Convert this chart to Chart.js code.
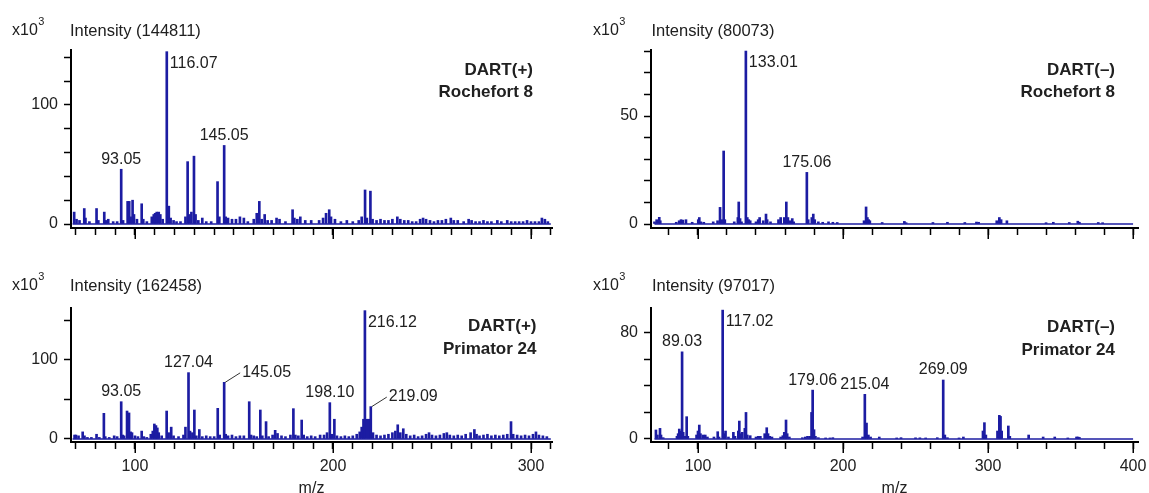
<!DOCTYPE html>
<html><head><meta charset="utf-8">
<script src="https://cdn.jsdelivr.net/npm/chart.js@4.4.1/dist/chart.umd.min.js"></script>
<style>
html,body{margin:0;padding:0;background:#fff;width:1149px;height:493px;overflow:hidden;position:relative;}
canvas{position:absolute;}
</style></head><body>
<canvas id="c1" width="575" height="246" style="left:0;top:0"></canvas>
<canvas id="c2" width="574" height="246" style="left:575px;top:0"></canvas>
<canvas id="c3" width="575" height="247" style="left:0;top:246px"></canvas>
<canvas id="c4" width="574" height="247" style="left:575px;top:246px"></canvas>
<script>
// ---------- DATA ----------
// Top-left: DART(+) Rochefort 8  (intensity x10^3)
const tlMz  = [69.3,70.5,72,74.4,75,77,80.6,81.5,84.5,85.2,86.5,89,91,93.05,94,96.3,97.1,97.8,98.8,99.5,101,103.4,104.2,106,108.5,109.5,110.2,111,112,112.8,114,116.07,117.1,118,119.5,121,123,125.5,126.6,127.5,128.5,129.8,130.6,132,134,136,138.5,141.7,142.6,145.05,145.8,147,149,151,153,155,157,160,161.5,162.8,164,165.5,167,169,171.5,173,176,179.6,180.5,182,183.5,186,189,193,195,196.5,198.1,199,201,204,207,210,213,214.5,216.2,217.1,218.9,220,222,224,226,228,230,232.5,234,236,238,240,242,244,245.5,247,249,251,253,255,257,259.5,261,263,266,268.5,270,272,274,276,278,280,283,285,288,290,292,294,296,298,300,302,304,305.5,307,308.5];
const tlInt = [10,4,3,13,5,2,13,3,10,3,4,2,2,46,3,19,19,6,20,8,4,17,4,2,6,8,9,10,10,8,4,144.8,15,5,3,2,2,6,52.4,8,10,57,8,3,5,2,2,35.6,6,66,6,5,4,4,6,5,2,4,9,19,4,8,3,3,5,4,2,12,5,4,6,3,3,3,5,9,12,6,4,2,3,2,3,6,28.6,5,27.6,4,3,4,3,3,4,6,4,3,3,2,2,4,5,4,3,2,3,3,4,5,3,3,2,4,3,2,2,3,2,2,3,2,3,2,2,2,2,3,2,2,2,5,4,2];
// Top-right: DART(-) Rochefort 8
const trMz  = [70,71.5,73.3,74,85,87,88.3,89.5,91.7,96,100.2,100.9,102,104,110.5,113.5,115.2,116.3,117.7,118.5,125,127.5,128.1,129,130,133.01,134,135,136,140,141.5,142.5,145,146.9,147.7,150,155.5,157,159.5,160.9,162,163.5,165,166,175.06,176,178.5,179.5,180.5,183,186,190,193,196,214.5,215.9,216.8,217.7,218.5,227,242.3,243.5,262,272,284,292,293.5,306,307.8,309,313,340,345,356,361.9,363,376,379];
const trInt = [1,2,3.1,1.5,0.8,1.5,2,1.8,2,0.8,2,3,1,0.8,1,1.5,7.7,2,33.8,2,1,3,10.2,2.5,1,80.07,3,2,1.5,1,2,3,1.5,4.6,2,1,2,3,3,10.2,3,1.5,2.5,1,23.9,2,3,4.6,2,1,0.8,1,0.8,0.7,1.5,7.9,3,2,1.5,0.7,1.2,0.6,0.7,0.8,0.7,0.9,0.8,1.5,3,2,1.5,0.6,0.8,0.7,1.3,0.8,0.7,0.6];
// Bottom-left: DART(+) Primator 24
const blMz  = [69.5,70.2,71.5,73.6,74.5,76,78,80.6,82,84.3,85,87,89.5,91,93.05,93.8,94.5,96,97,97.8,98.5,100,101.5,103.4,104.5,106,108,109,109.8,110.6,111.3,112,113.5,116,117,118.3,119.5,122,124.5,125.5,127.04,127.8,129,130,131,132.5,134,136,138,140,141.8,142.8,145.05,145.8,147,149,151,153,155,157.7,158.6,160,161.5,163.3,164.3,166.2,167.5,169.5,170.8,172,174,176,178.5,180,181,182.5,184.2,185.2,187,189,191,193.5,195.5,197,198.4,199.5,200.7,202,204,206,208,210,212,213.5,214.5,215.4,216.12,217.2,218.1,219.09,220.2,222,224,226,228,230,231.5,232.7,234,235.5,237,239,241,243,245,247,248.5,250,252,254,256,257.5,259,261,263,265,267,269.5,271.4,272.5,274,276,278,280,282,284,286,288,289.9,291,293,295,297,299,301,302.5,304,306,308];
const blInt = [5,5,4,9,4,2,2,6,2,32.5,3,2,4,3,47.2,5,4,35.4,33,9,8,4,3,10,3,2,6,10,19,17,14,8,4,35.4,8,15,4,3,5,15,84,10,8,36.7,4,12,3,4,3,3,38.8,5,71.7,6,4,5,3,4,4,47.2,5,4,3,36.7,4,22,3,5,11,7,4,3,5,38.4,5,4,24,5,3,4,3,5,5,8,46,6,25,4,3,4,3,4,6,9,15,25,162.46,25,25,41,8,5,4,5,6,8,10,18,8,13,6,4,5,3,4,6,8,5,4,5,7,8,5,4,5,4,6,8,12,6,4,5,6,4,5,4,5,6,22,6,5,4,5,4,6,9,5,4,3];
// Bottom-right: DART(-) Primator 24
const brMz  = [71,72,73.8,74.5,76,85.5,86.3,87.1,88,89.03,89.8,91,92.2,93,99,100,100.9,101.7,103.5,105,106.5,111,113.6,114.5,117.02,118,119,121,124.4,125.5,127.8,128.5,129.3,130.5,132.3,133.1,134,136,140,141.5,143,146,147.4,148.3,149.5,151,157,158.5,159.5,160.7,161.5,163,172,174,175.5,177,178.3,179.06,180,181,183,188,191,193,213.5,215.04,216.2,217.5,219,225,237,240,250,253,257,265,269.09,270.2,272,280,283,296.5,297.5,298.5,306.5,307.8,308.6,309.4,314,315,328,338,346,355,361,362,363];
const brInt = [6.8,3,8,3,1,2,4,7.5,6,65.6,5,2,16.8,2,3,6,10.5,4,3,3,1.5,1.5,5.5,1.5,97.0,4,6,1.5,5,2,6,13.5,4,5,8,20,3,2.5,1.5,2,2,4,8.5,4,2,1.5,1.5,2.5,5,14.3,4,1.5,1,1.5,2,2,20,36.8,7,2,1,0.8,0.8,1,1.5,33.6,12,3,1.5,1.5,0.8,1,0.9,0.9,0.8,1,44.4,3,1,0.8,1.5,6,12.3,3,6,17.8,17,6,9.8,2,3,1.5,1.5,0.8,1.5,1.5,1.2];

// Recorded m/z range of each spectrum trace (baseline extent)
const tlRange = [68.5, 310];
const trRange = [70, 400];
const blRange = [68.5, 310];
const brRange = [70, 400];

// Axis ticks
const leftXTicks  = [70,80,90,100,110,120,130,140,150,160,170,180,190,200,210,220,230,240,250,260,270,280,290,300,310];
const leftXMajor  = [100,200,300];
const rightXTicks = [80,100,120,140,160,180,200,220,240,260,280,300,320,340,360,380,400];
const rightXMajor = [100,200,300,400];
const tlYTicks = [0,20,40,60,80,100,120,140]; const tlYLabels = [0,100];
const trYTicks = [0,10,20,30,40,50,60,70,80]; const trYLabels = [0,50];
const blYTicks = [0,50,100,150];              const blYLabels = [0,100];
const brYTicks = [0,20,40,60,80];             const brYLabels = [0,80];

// Texts
const tlIntensity = 'Intensity (144811)', trIntensity = 'Intensity (80073)';
const blIntensity = 'Intensity (162458)', brIntensity = 'Intensity (97017)';
const tlMode = 'DART(+)', trMode = 'DART(–)', blMode = 'DART(+)', brMode = 'DART(–)';
const tlSample = 'Rochefort 8', trSample = 'Rochefort 8', blSample = 'Primator 24', brSample = 'Primator 24';
const tlPeakLabels = ['93.05','116.07','145.05'];
const trPeakLabels = ['133.01','175.06'];
const blPeakLabels = ['93.05','127.04','145.05','198.10','216.12','219.09'];
const brPeakLabels = ['89.03','117.02','179.06','215.04','269.09'];

// ---------- STYLE / LAYOUT ----------
const BLUE = '#1c1ca2';
const TXT = '#202020';
const FONT = "'Liberation Sans', Arial, Helvetica, sans-serif";

const panels = [
  {id:'c1', mz:tlMz, inten:tlInt, range:tlRange, xMin:67.7, xMax:310.6, yMin:-3.36, yMax:146.2, xTicks:leftXTicks, xMajor:leftXMajor, showX:false,
   yTicks:tlYTicks, yLabels:tlYLabels, padTop:50, padRight:23, yAxisW:71, xAxisH:18,
   intensity:tlIntensity, mode:tlMode, sample:tlSample, peaks:tlPeakLabels, pos:['above','right','above'],
   x10:[12,31], intX:70, modeX:533, modeY:[70,92]},
  {id:'c2', mz:trMz, inten:trInt, range:trRange, xMin:67.6, xMax:403.4, yMin:-1.85, yMax:80.56, xTicks:rightXTicks, xMajor:rightXMajor, showX:false,
   yTicks:trYTicks, yLabels:trYLabels, padTop:50, padRight:11, yAxisW:76, xAxisH:18,
   intensity:trIntensity, mode:trMode, sample:trSample, peaks:trPeakLabels, pos:['right','above'],
   x10:[18,31], intX:76.5, modeX:540, modeY:[70,92]},
  {id:'c3', mz:blMz, inten:blInt, range:blRange, xMin:67.7, xMax:310.6, yMin:-3.8, yMax:165.8, xTicks:leftXTicks, xMajor:leftXMajor, showX:true,
   yTicks:blYTicks, yLabels:blYLabels, padTop:62, padRight:23, yAxisW:71, xAxisH:51,
   intensity:blIntensity, mode:blMode, sample:blSample, peaks:blPeakLabels, pos:['above','above','leader','above','right','leader'],
   x10:[12,40], intX:70, modeX:536.5, modeY:[80,103]},
  {id:'c4', mz:brMz, inten:brInt, range:brRange, xMin:67.6, xMax:403.4, yMin:-2.26, yMax:98.6, xTicks:rightXTicks, xMajor:rightXMajor, showX:true,
   yTicks:brYTicks, yLabels:brYLabels, padTop:62, padRight:11, yAxisW:76, xAxisH:51,
   intensity:brIntensity, mode:brMode, sample:brSample, peaks:brPeakLabels, pos:['above','right','above','above','above'],
   x10:[18,40], intX:77, modeX:540, modeY:[81,104]}
];

function findPeak(p, target){
  let best = -1, bi = -1;
  for (let i=0;i<p.mz.length;i++){
    if (Math.abs(p.mz[i]-target) <= 1.5 && p.inten[i] > best){ best = p.inten[i]; bi = i; }
  }
  return bi;
}

function textPlugin(p){
  return {
    id:'txt_'+p.id,
    afterDraw(chart){
      const ctx = chart.ctx, xs = chart.scales.x, ys = chart.scales.y, ca = chart.chartArea;
      ctx.save();
      // longer major x ticks
      ctx.strokeStyle = '#000'; ctx.lineWidth = 1.5;
      p.xMajor.forEach(v=>{
        const px = Math.round(xs.getPixelForValue(v)) + 0.25;
        ctx.beginPath(); ctx.moveTo(px, ca.bottom); ctx.lineTo(px, ca.bottom + 11); ctx.stroke();
      });
      ctx.fillStyle = TXT;
      ctx.textBaseline = 'middle';
      // x10^3
      ctx.font = '16px ' + FONT; ctx.textAlign = 'left';
      ctx.fillText('x10', p.x10[0], p.x10[1]);
      const w = ctx.measureText('x10').width;
      ctx.font = '11px ' + FONT;
      ctx.fillText('3', p.x10[0] + w + 0.5, p.x10[1] - 9);
      ctx.font = '16.5px ' + FONT;
      ctx.fillText(p.intensity, p.intX, p.x10[1]);
      // mode / sample
      ctx.font = 'bold 17px ' + FONT; ctx.textAlign = 'right';
      ctx.fillText(p.mode, p.modeX, p.modeY[0]);
      ctx.fillText(p.sample, p.modeX, p.modeY[1]);
      // peak labels
      ctx.font = '16px ' + FONT;
      p.peaks.forEach((t, k)=>{
        const i = findPeak(p, parseFloat(t));
        if (i < 0) return;
        const px = xs.getPixelForValue(p.mz[i]);
        const py = ys.getPixelForValue(p.inten[i]);
        const mode = p.pos[k];
        if (mode === 'above'){
          ctx.textAlign = 'center'; ctx.fillText(t, px, py - 10);
        } else if (mode === 'right'){
          ctx.textAlign = 'left'; ctx.fillText(t, px + 3, py + 11.5);
        } else {
          ctx.strokeStyle = '#333'; ctx.lineWidth = 1;
          ctx.beginPath(); ctx.moveTo(px + 1, py); ctx.lineTo(px + 16, py - 9.5); ctx.stroke();
          ctx.textAlign = 'left'; ctx.fillText(t, px + 18, py - 10);
        }
      });
      // m/z title
      if (p.showX){
        ctx.textAlign = 'center';
        ctx.fillText('m/z', (ca.left + ca.right)/2, ca.bottom + 47);
      }
      ctx.restore();
    }
  };
}

function build(p){
  const pts = p.mz.map((m,i)=>({x:m, y:p.inten[i]}));
  const base = [{x:p.range[0], y:0}, {x:p.range[1], y:0}];
  new Chart(document.getElementById(p.id), {
    type:'bar',
    data:{datasets:[
      {type:'line', data:base, borderColor:BLUE, borderWidth:1.6, pointRadius:0, order:2},
      {type:'bar', data:pts, backgroundColor:BLUE, borderWidth:0, barThickness:2, base:0, order:1}
    ]},
    options:{
      responsive:false, animation:false, devicePixelRatio:1,
      layout:{padding:{top:p.padTop, right:p.padRight, left:0, bottom:0}},
      plugins:{legend:{display:false}, tooltip:{enabled:false}},
      scales:{
        x:{type:'linear', min:p.xMin, max:p.xMax, offset:false,
           grid:{offset:false, drawOnChartArea:false, drawTicks:true, tickLength:7, tickColor:'#000', tickWidth:1.5},
           border:{display:true, color:'#000', width:2},
           ticks:{autoSkip:false, maxRotation:0, minRotation:0, padding:8, color:TXT, font:{family:FONT, size:16},
                  callback:(v)=> (p.showX && p.xMajor.includes(v)) ? String(v) : ''},
           afterBuildTicks:(s)=>{ s.ticks = p.xTicks.map(v=>({value:v})); },
           afterFit:(s)=>{ s.height = p.xAxisH; s.paddingLeft = 0; s.paddingRight = 0; }
        },
        y:{type:'linear', min:p.yMin, max:p.yMax,
           grid:{drawOnChartArea:false, drawTicks:true, tickLength:7, tickColor:'#000', tickWidth:1.5},
           border:{display:true, color:'#000', width:2},
           ticks:{autoSkip:false, padding:6, color:TXT, font:{family:FONT, size:16},
                  callback:(v)=> p.yLabels.includes(v) ? String(v) : ''},
           afterBuildTicks:(s)=>{ s.ticks = p.yTicks.map(v=>({value:v})); },
           afterFit:(s)=>{ s.width = p.yAxisW; s.paddingTop = 0; s.paddingBottom = 0; }
        }
      }
    },
    plugins:[textPlugin(p)]
  });
}
panels.forEach(build);
</script>
</body></html>
